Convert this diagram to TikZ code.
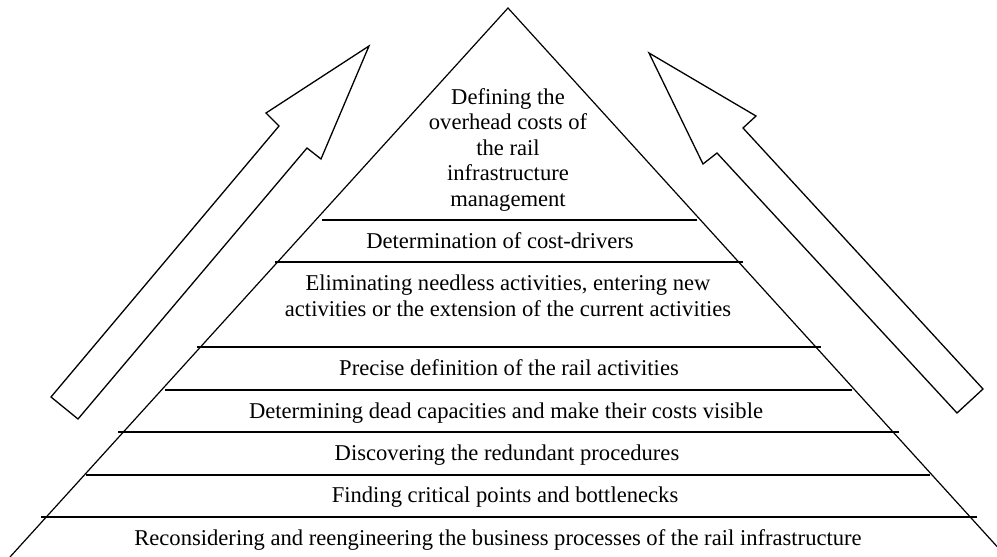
\documentclass[tikz,border=0pt]{standalone}
\usepackage{fontspec}
\setmainfont{Liberation Serif}
\begin{document}
\begin{tikzpicture}[x=1pt,y=-1pt,
  edge/.style={draw=black,line width=1.2pt,line join=miter},
  tier/.style={draw=black,line width=1.5pt},
  bigarrow/.style={draw=black,line width=1.3pt,line join=miter,fill=white},
  lbl/.style={anchor=base,inner sep=0pt,align=center,font=\fontsize{22.6}{25.5}\selectfont}]
\useasboundingbox (0,0) rectangle (997,557);
% pyramid
\coordinate (apex) at (508,8);
\coordinate (bl) at (10,557);
\coordinate (br) at (997,546.5);
\draw[edge] (bl) -- (apex) -- (br);
% tier lines
\draw[tier] (322,220) -- (697,220);
\draw[tier] (275,262) -- (743,262);
\draw[tier] (197,347) -- (821,347);
\draw[tier] (165,390) -- (852,390);
\draw[tier] (118,432) -- (899,432);
\draw[tier] (86,475) -- (930,475);
\draw[tier] (41,517) -- (977,517);
% arrows
\draw[bigarrow] (51,397) -- (279,126) -- (266,113) -- (369,46) -- (321,159) -- (307,148) -- (78,419) -- cycle;
\draw[bigarrow] (957,413) -- (717,153) -- (703,164) -- (649,53) -- (756,116) -- (743,128) -- (983,389) -- cycle;
% labels (anchor=base is the baseline of the last line)
\node[lbl] (t1) at (508,206) {Defining the\\overhead costs of\\the rail\\infrastructure\\management};
\node[lbl] (t2) at (500,248) {Determination of cost-drivers};
\node[lbl] (t3) at (508,316) {Eliminating needless activities, entering new\\activities or the extension of the current activities};
\node[lbl] (t4) at (509,375) {Precise definition of the rail activities};
\node[lbl] (t5) at (506,418) {Determining dead capacities and make their costs visible};
\node[lbl] (t6) at (507,460) {Discovering the redundant procedures};
\node[lbl] (t7) at (505,502) {Finding critical points and bottlenecks};
\node[lbl] (t8) at (498,545) {Reconsidering and reengineering the business processes of the rail infrastructure};
\end{tikzpicture}
\end{document}
